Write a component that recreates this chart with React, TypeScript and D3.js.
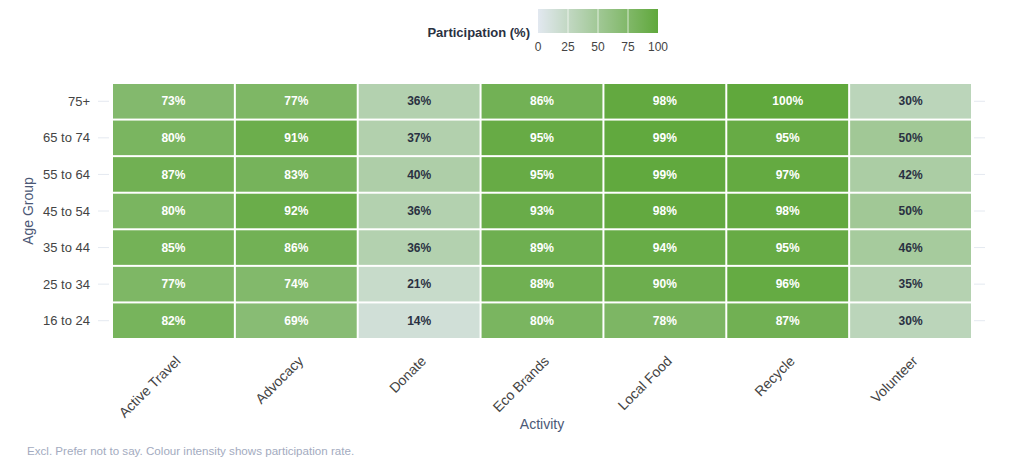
import * as d3 from 'd3'

const activities = ['Active Travel', 'Advocacy', 'Donate', 'Eco Brands', 'Local Food', 'Recycle', 'Volunteer']
const ageGroups = ['75+', '65 to 74', '55 to 64', '45 to 54', '35 to 44', '25 to 34', '16 to 24']

// rows follow ageGroups, columns follow activities
const participation = [
  [73, 77, 36, 86, 98, 100, 30],
  [80, 91, 37, 95, 99, 95, 50],
  [87, 83, 40, 95, 99, 97, 42],
  [80, 92, 36, 93, 98, 98, 50],
  [85, 86, 36, 89, 94, 95, 46],
  [77, 74, 21, 88, 90, 96, 35],
  [82, 69, 14, 80, 78, 87, 30],
]

const legendTicks = [0, 25, 50, 75, 100]

const FONT = '"Liberation Sans", Arial, sans-serif'

export default function App() {
  const width = 1022
  const height = 472
  const margin = { top: 83, right: 50, bottom: 133, left: 112 }
  const innerW = width - margin.left - margin.right
  const innerH = height - margin.top - margin.bottom

  const x = d3.scaleBand().domain(activities).range([0, innerW])
  const y = d3.scaleBand().domain(ageGroups).range([0, innerH])
  const color = d3.scaleLinear<string>().domain([0, 100]).range(['#e2e8f0', '#60a83c']).interpolate(d3.interpolateRgb)

  const cells = ageGroups.flatMap((g, i) =>
    activities.map((a, j) => ({ g, a, v: participation[i][j] }))
  )

  const lg = { x: 538, y: 9, w: 120, h: 24 }
  const lx = d3.scaleLinear().domain([0, 100]).range([lg.x, lg.x + lg.w])

  return (
    <svg width={width} height={height} style={{ position: 'absolute', left: 0, top: 0 }} fontFamily={FONT}>
      <defs>
        <linearGradient id="legendGrad" x1="0" x2="1" y1="0" y2="0">
          {legendTicks.map((t) => (
            <stop key={t} offset={`${t}%`} stopColor={color(t)} />
          ))}
        </linearGradient>
      </defs>

      {/* legend */}
      <text x={lg.x - 8} y={37} textAnchor="end" fontSize={13} fontWeight="bold" fill="#2a3142">
        Participation (%)
      </text>
      <rect x={lg.x} y={lg.y} width={lg.w} height={lg.h} fill="url(#legendGrad)" />
      {legendTicks.slice(1, -1).map((t) => (
        <line key={t} x1={lx(t)} x2={lx(t)} y1={lg.y} y2={lg.y + lg.h} stroke="#fff" strokeOpacity={0.7} />
      ))}
      {legendTicks.map((t) => (
        <text key={t} x={lx(t)} y={51} textAnchor="middle" fontSize={12} fill="#444">
          {t}
        </text>
      ))}

      <g transform={`translate(${margin.left},${margin.top})`}>
        {ageGroups.map((g) => (
          <g key={g}>
            <line x1={-14} x2={-3} y1={y(g)! + y.bandwidth() / 2} y2={y(g)! + y.bandwidth() / 2} stroke="#e4e9f0" />
            <line x1={innerW + 2} x2={innerW + 13} y1={y(g)! + y.bandwidth() / 2} y2={y(g)! + y.bandwidth() / 2} stroke="#e4e9f0" />
            <text x={-22} y={y(g)! + y.bandwidth() / 2} dy="0.35em" textAnchor="end" fontSize={13} fill="#444">
              {g}
            </text>
          </g>
        ))}

        {cells.map((c) => (
          <g key={c.g + c.a}>
            <rect
              x={x(c.a)! + 1}
              y={y(c.g)! + 1}
              width={x.bandwidth() - 2}
              height={y.bandwidth() - 2}
              fill={color(c.v)}
            />
            <text
              x={x(c.a)! + x.bandwidth() / 2}
              y={y(c.g)! + y.bandwidth() / 2}
              dy="0.35em"
              textAnchor="middle"
              fontSize={12}
              fontWeight="bold"
              fill={c.v >= 60 ? '#ffffff' : '#2a3142'}
            >
              {c.v}%
            </text>
          </g>
        ))}

        {activities.map((a) => (
          <text
            key={a}
            transform={`translate(${x(a)! + x.bandwidth() / 2 + 1},${innerH + 16}) rotate(-45)`}
            textAnchor="end"
            dy="0.7em"
            fontSize={14}
            fill="#444"
          >
            {a}
          </text>
        ))}

        <text x={innerW / 2} y={innerH + 90} textAnchor="middle" fontSize={14} fill="#4b5876">
          Activity
        </text>
        <text
          transform={`translate(${-79},${innerH / 2}) rotate(-90)`}
          textAnchor="middle"
          fontSize={14}
          fill="#4b5876"
        >
          Age Group
        </text>
      </g>

      <text x={27} y={455} fontSize={11.6} fill="#a3abc0">
        Excl. Prefer not to say. Colour intensity shows participation rate.
      </text>
    </svg>
  )
}
